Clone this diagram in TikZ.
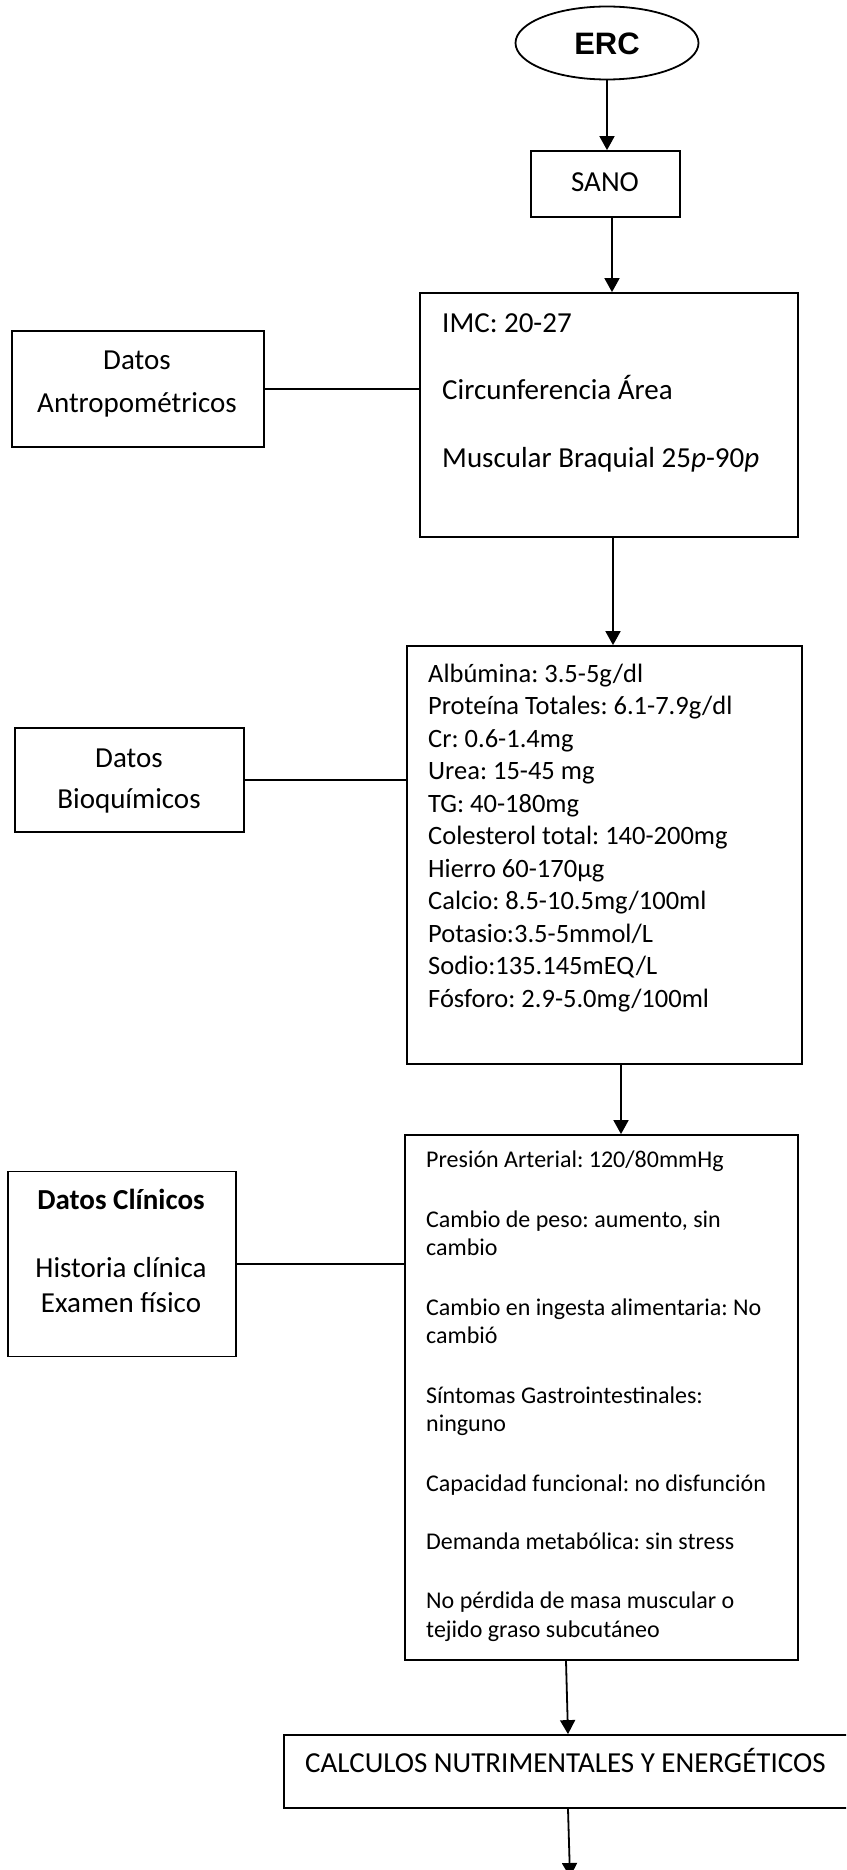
\documentclass[tikz,border=0pt]{standalone}
\usepackage{fontspec}
\setmainfont{Carlito}
\newfontfamily\arialfont{Liberation Sans}
\usetikzlibrary{arrows.meta, shapes.geometric, positioning}
\frenchspacing

\newcommand{\sizeL}{\fontsize{29}{35}\selectfont}
\newcommand{\sizeM}{\fontsize{26.5}{32}\selectfont}
\newcommand{\sizeS}{\fontsize{24}{29}\selectfont}

\tikzset{
    box/.style={draw, line width=1.8pt, rectangle, inner sep=0pt},
    arr/.style={line width=1.8pt, -{Triangle[length=14pt, width=15pt]}},
    lnk/.style={line width=1.8pt},
    txt/.style={anchor=base west, inner sep=0pt},
    ctxt/.style={anchor=base, inner sep=0pt}
}

\begin{document}
\begin{tikzpicture}[x=1pt, y=-1pt]
    \useasboundingbox (0,0) rectangle (846,1870);
    \clip (0,0) rectangle (846,1870);

    % Inicio
    \node[draw, ellipse, line width=1.8pt, minimum width=183pt, minimum height=73pt, inner sep=0pt] (erc) at (607,43) {};
    \node[ctxt] (erctxt) at (607,55) {\arialfont\bfseries\fontsize{31}{36}\selectfont ERC};

    % Box for SANO
    \node[box, minimum width=149pt, minimum height=66pt] (sano) at (605.5,184) {};
    \node[ctxt] (sanotxt) at (605,192) {\sizeL SANO};

    % Box for antropometria
    \node[box, minimum width=378pt, minimum height=244pt] (imc) at (609,415) {};
    \node[txt] (imc1) at (442,332) {\sizeL IMC: 20-27};
    \node[txt] (imc2) at (442,399) {\sizeL Circunferencia Área};
    \node[txt] (imc3) at (442,467) {\sizeL Muscular Braquial 25\textit{p}-90\textit{p}};

    \node[box, minimum width=252pt, minimum height=116pt] (antro) at (138,389) {};
    \node[ctxt] (antro1) at (137,369) {\sizeL Datos};
    \node[ctxt] (antro2) at (137,412) {\sizeL Antropométricos};

    % Box for bioquimicos
    \node[box, minimum width=395pt, minimum height=418pt] (bioq) at (604.5,855) {};
    \node[txt] (bq1) at (428,682) {\sizeM Albúmina: 3.5-5g/dl};
    \node[txt] (bq2) at (428,714.5) {\sizeM Proteína Totales: 6.1-7.9g/dl};
    \node[txt] (bq3) at (428,747) {\sizeM Cr: 0.6-1.4mg};
    \node[txt] (bq4) at (428,779.5) {\sizeM Urea: 15-45 mg};
    \node[txt] (bq5) at (428,812) {\sizeM TG: 40-180mg};
    \node[txt] (bq6) at (428,844.5) {\sizeM Colesterol total: 140-200mg};
    \node[txt] (bq7) at (428,877) {\sizeM Hierro 60-170µg};
    \node[txt] (bq8) at (428,909.5) {\sizeM Calcio: 8.5-10.5mg/100ml};
    \node[txt] (bq9) at (428,942) {\sizeM Potasio:3.5-5mmol/L};
    \node[txt] (bq10) at (428,974.5) {\sizeM Sodio:135.145mEQ/L};
    \node[txt] (bq11) at (428,1007) {\sizeM Fósforo: 2.9-5.0mg/100ml};

    \node[box, minimum width=229pt, minimum height=104pt] (bioqlab) at (129.5,780) {};
    \node[ctxt] (bioqlab1) at (129,767) {\sizeL Datos};
    \node[ctxt] (bioqlab2) at (129,808) {\sizeL Bioquímicos};

    % Box for clinicos
    \node[box, minimum width=393pt, minimum height=525pt] (clin) at (601.5,1397.5) {};
    \node[txt] (cl1) at (426,1167) {\sizeS Presión Arterial: 120/80mmHg};
    \node[txt] (cl2) at (426,1227) {\sizeS Cambio de peso: aumento, sin};
    \node[txt] (cl3) at (426,1255) {\sizeS cambio};
    \node[txt] (cl4) at (426,1315) {\sizeS Cambio en ingesta alimentaria: No};
    \node[txt] (cl5) at (426,1343) {\sizeS cambió};
    \node[txt] (cl6) at (426,1403) {\sizeS Síntomas Gastrointestinales:};
    \node[txt] (cl7) at (426,1431) {\sizeS ninguno};
    \node[txt] (cl8) at (426,1491) {\sizeS Capacidad funcional: no disfunción};
    \node[txt] (cl9) at (426,1549) {\sizeS Demanda metabólica: sin stress};
    \node[txt] (cl10) at (426,1608) {\sizeS No pérdida de masa muscular o};
    \node[txt] (cl11) at (426,1637) {\sizeS tejido graso subcutáneo};

    \node[box, minimum width=228pt, minimum height=185pt] (clinlab) at (122,1264) {};
    \node[ctxt] (clinlab1) at (121,1209) {\sizeL\bfseries Datos Clínicos};
    \node[ctxt] (clinlab2) at (121,1277) {\sizeL Historia clínica};
    \node[ctxt] (clinlab3) at (121,1312) {\sizeL Examen físico};

    % Box for calculos
    \node[box, minimum width=586pt, minimum height=73pt] (calc) at (577,1771.5) {};
    \node[txt] (calctxt) at (305,1772) {\sizeL CALCULOS NUTRIMENTALES Y ENERGÉTICOS};
    \coordinate (fin) at (570,1877);

    % Arrows
    \draw[arr] (erc.south) -- (erc.south |- sano.north);
    \draw[arr] ([xshift=6.5pt]sano.south) -- ([xshift=6.5pt]sano.south |- imc.north);
    \draw[arr] ([xshift=4pt]imc.south) -- ([xshift=4pt]imc.south |- bioq.north);
    \draw[arr] ([xshift=16.5pt]bioq.south) -- ([xshift=16.5pt]bioq.south |- clin.north);
    \draw[arr] ([xshift=-35.5pt]clin.south) -- ([xshift=-9pt]calc.north);
    \draw[arr] ([xshift=-9pt]calc.south) -- (fin);

    % Lines
    \draw[lnk] (antro.east) -- (antro.east -| imc.west);
    \draw[lnk] (bioqlab.east) -- (bioqlab.east -| bioq.west);
    \draw[lnk] (clinlab.east) -- (clinlab.east -| clin.west);
\end{tikzpicture}
\end{document}
